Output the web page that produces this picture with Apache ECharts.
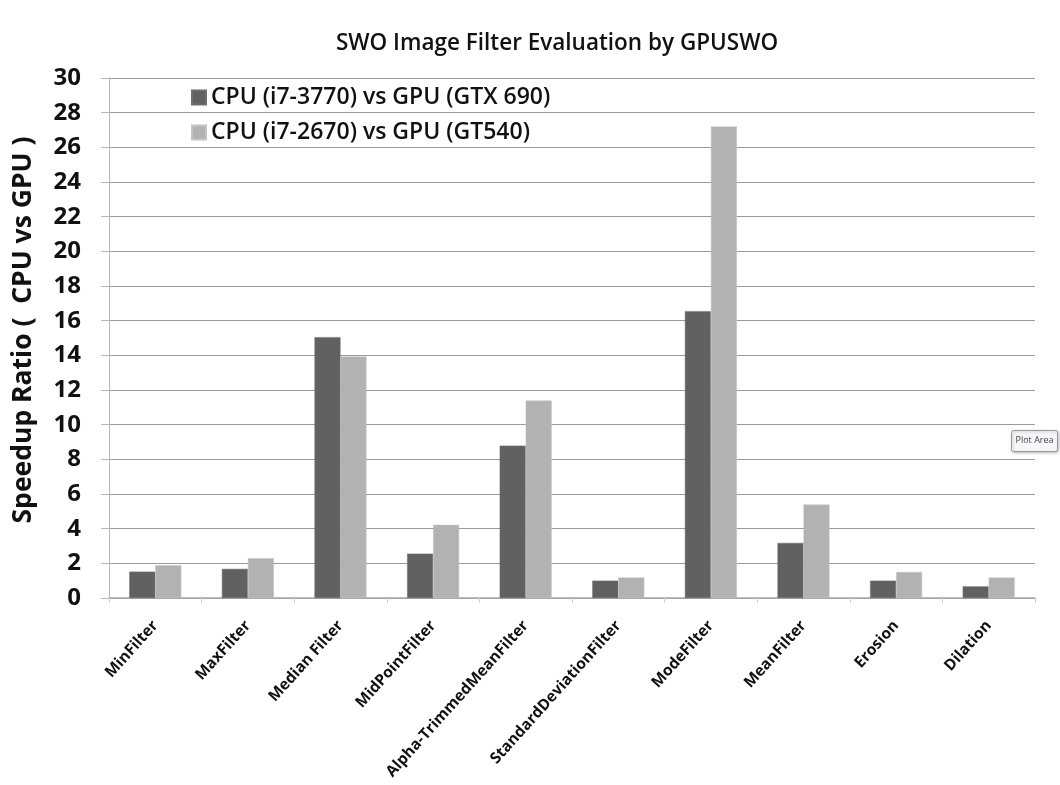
<!DOCTYPE html>
<html>
<head>
<meta charset="utf-8">
<script src="https://cdn.jsdelivr.net/npm/echarts@6/dist/echarts.min.js"></script>
<style>
  html, body { margin: 0; padding: 0; background: #fff; }
  #chart { width: 1060px; height: 785px; }
</style>
</head>
<body>
<div id="chart"></div>
<script>
// Filter names along the x axis
const categories = [
  'MinFilter', 'MaxFilter', 'Median Filter', 'MidPointFilter',
  'Alpha-TrimmedMeanFilter', 'StandardDeviationFilter', 'ModeFilter',
  'MeanFilter', 'Erosion', 'Dilation'
];

// Speedup ratios for each hardware pairing
const seriesNames = ['CPU (i7-3770) vs GPU (GTX 690)', 'CPU (i7-2670) vs GPU (GT540)'];
const speedupGTX690 = [1.52, 1.68, 15.05, 2.56, 8.79, 1.0, 16.55, 3.18, 1.0, 0.67];
const speedupGT540  = [1.89, 2.29, 13.93, 4.22, 11.39, 1.18, 27.2, 5.39, 1.5, 1.18];

// Y axis scale
const yMin = 0;
const yMax = 30;
const yStep = 2;

const font = '"Open Sans", "DejaVu Sans", sans-serif';

const chart = echarts.init(document.getElementById('chart'), null, { renderer: 'canvas' });

chart.setOption({
  animation: false,
  backgroundColor: '#ffffff',
  title: {
    text: 'SWO Image Filter Evaluation by GPUSWO',
    left: 552,
    textAlign: 'center',
    top: 27,
    textStyle: { fontFamily: font, fontSize: 22.5, fontWeight: 600, color: '#111' }
  },
  legend: {
    orient: 'vertical',
    left: 191,
    top: 86,
    padding: [0, 0, 0, 0],
    itemWidth: 14,
    itemHeight: 14,
    itemGap: 12,
    icon: 'rect',
    textStyle: { fontFamily: font, fontSize: 23, fontWeight: 600, color: '#111', padding: [0, 0, 0, 0] },
    data: seriesNames
  },
  grid: {
    left: 109,
    right: 25,
    top: 78,
    bottom: 187
  },
  xAxis: {
    type: 'category',
    data: categories,
    axisLine: { lineStyle: { color: '#a8a8a8', width: 1.5 } },
    axisTick: { show: true, length: 5, lineStyle: { color: '#d0d0d0' } },
    axisLabel: {
      rotate: 48,
      interval: 0,
      margin: 25,
      fontFamily: font,
      fontSize: 15.5,
      fontWeight: 'bold',
      color: '#111'
    }
  },
  yAxis: {
    type: 'value',
    min: yMin,
    max: yMax,
    interval: yStep,
    name: 'Speedup Ratio (  CPU vs GPU )',
    nameLocation: 'middle',
    nameGap: 72,
    nameTextStyle: {
      fontFamily: font, fontSize: 26.5, fontWeight: 'bold', color: '#111',
      padding: [0, 0, 0, 16]
    },
    axisLine: { show: true, lineStyle: { color: '#b8b8b8' } },
    axisTick: { show: true, length: 8, lineStyle: { color: '#b8b8b8' } },
    axisLabel: {
      margin: 28,
      fontFamily: font,
      fontSize: 24,
      fontWeight: 'bold',
      color: '#111'
    },
    splitLine: { lineStyle: { color: '#9a9a9a', width: 1.2 } }
  },
  series: [
    {
      name: seriesNames[0],
      type: 'bar',
      data: speedupGTX690,
      barWidth: 26,
      barGap: '0%',
      itemStyle: { color: '#616161', borderColor: '#6e6e6e', borderWidth: 0.5 }
    },
    {
      name: seriesNames[1],
      type: 'bar',
      data: speedupGT540,
      barWidth: 26,
      barGap: '0%',
      itemStyle: { color: '#b2b2b2', borderColor: '#c4c4c4', borderWidth: 0.5 }
    }
  ],
  graphic: [
    {
      type: 'group',
      left: 1011,
      top: 430,
      children: [
        {
          type: 'rect',
          shape: { x: 0, y: 0, width: 46, height: 21, r: 2 },
          style: {
            fill: '#f7f7f9',
            stroke: '#9a9aa6',
            lineWidth: 1,
            shadowBlur: 3,
            shadowOffsetX: 1,
            shadowOffsetY: 1,
            shadowColor: 'rgba(0,0,0,0.25)'
          }
        },
        {
          type: 'text',
          x: 4,
          y: 5,
          style: { text: 'Plot Area', fontFamily: font, fontSize: 9, fill: '#444' }
        }
      ]
    }
  ]
});
</script>
</body>
</html>
